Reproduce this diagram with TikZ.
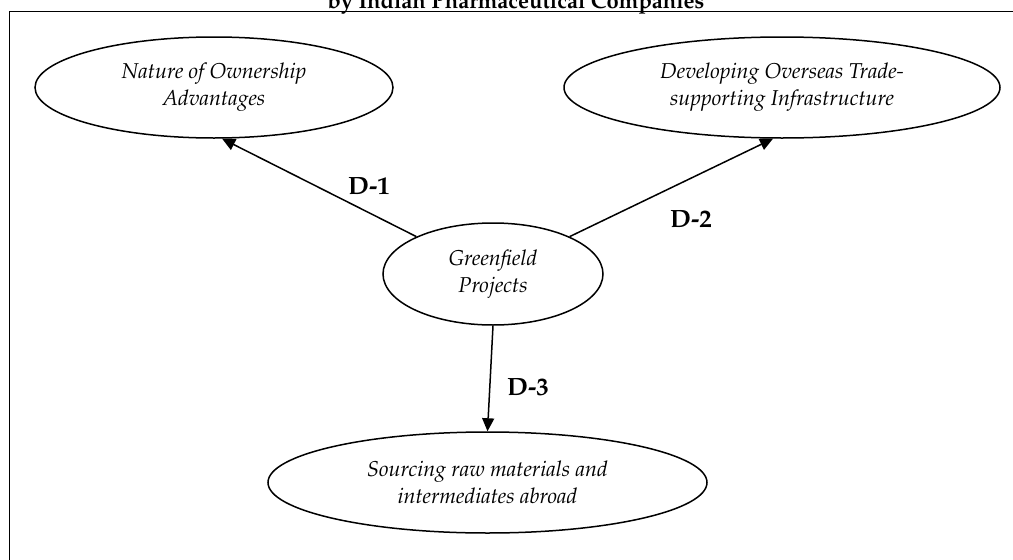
\documentclass[tikz,border=0pt]{standalone}
\usepackage[T1]{fontenc}
\usepackage{mathpazo}
\usepackage{tikz}
\usetikzlibrary{shapes.geometric,arrows.meta}
\tikzset{every picture/.style={line width=1.5pt}}
\tikzset{
	oval/.style={draw, ellipse, inner sep=0pt, align=center, font=\fontsize{21.5}{27}\selectfont\itshape},
	dlabel/.style={inner sep=0pt, font=\fontsize{25}{30}\selectfont\bfseries},
	dlink/.style={-{Triangle[length=13pt,width=12pt]}}
}

\begin{document}
\begin{tikzpicture}[x=1pt,y=1pt,yscale=-1,xscale=1]
	\useasboundingbox (0,0) rectangle (1013,560);
	
	%Shape: Rectangle [id:frame] 
	\draw (9.5,11.5) rectangle (1030,585) ;
	% Text Node
	\node (title) at (516,8) [anchor=base, inner sep=0pt, font=\fontsize{22}{26}\selectfont\bfseries] {by Indian Pharmaceutical Companies};
	
	%Shape: Ellipse [id:own] 
	\node (own) at (214,87.5) [oval, minimum width=358pt, minimum height=101pt] {Nature of Ownership\\Advantages};
	%Shape: Ellipse [id:infra] 
	\node (infra) at (782,87.5) [oval, minimum width=436pt, minimum height=101pt] {Developing Overseas Trade-\\supporting Infrastructure};
	%Shape: Ellipse [id:gf] 
	\node (gf) at (493,274) [oval, minimum width=220pt, minimum height=102pt] {Greenfield\\Projects};
	%Shape: Ellipse [id:src] 
	\node (src) at (487.5,482.5) [oval, minimum width=439pt, minimum height=101pt] {Sourcing raw materials and\\intermediates abroad};
	
	%Straight Lines [id:d1] 
	\draw [dlink] (gf.154.6) -- (own.-81.7) ;
	%Straight Lines [id:d2] 
	\draw [dlink] (gf.26.3) -- (infra.-100) ;
	%Straight Lines [id:d3] 
	\draw [dlink] (gf.south) -- (src.north) ;
	
	% Text Node
	\node (d1) at (369,186) [dlabel] {D-1};
	% Text Node
	\node (d2) at (691,219) [dlabel] {D-2};
	% Text Node
	\node (d3) at (528,387) [dlabel] {D-3};
	
\end{tikzpicture}
\end{document}
